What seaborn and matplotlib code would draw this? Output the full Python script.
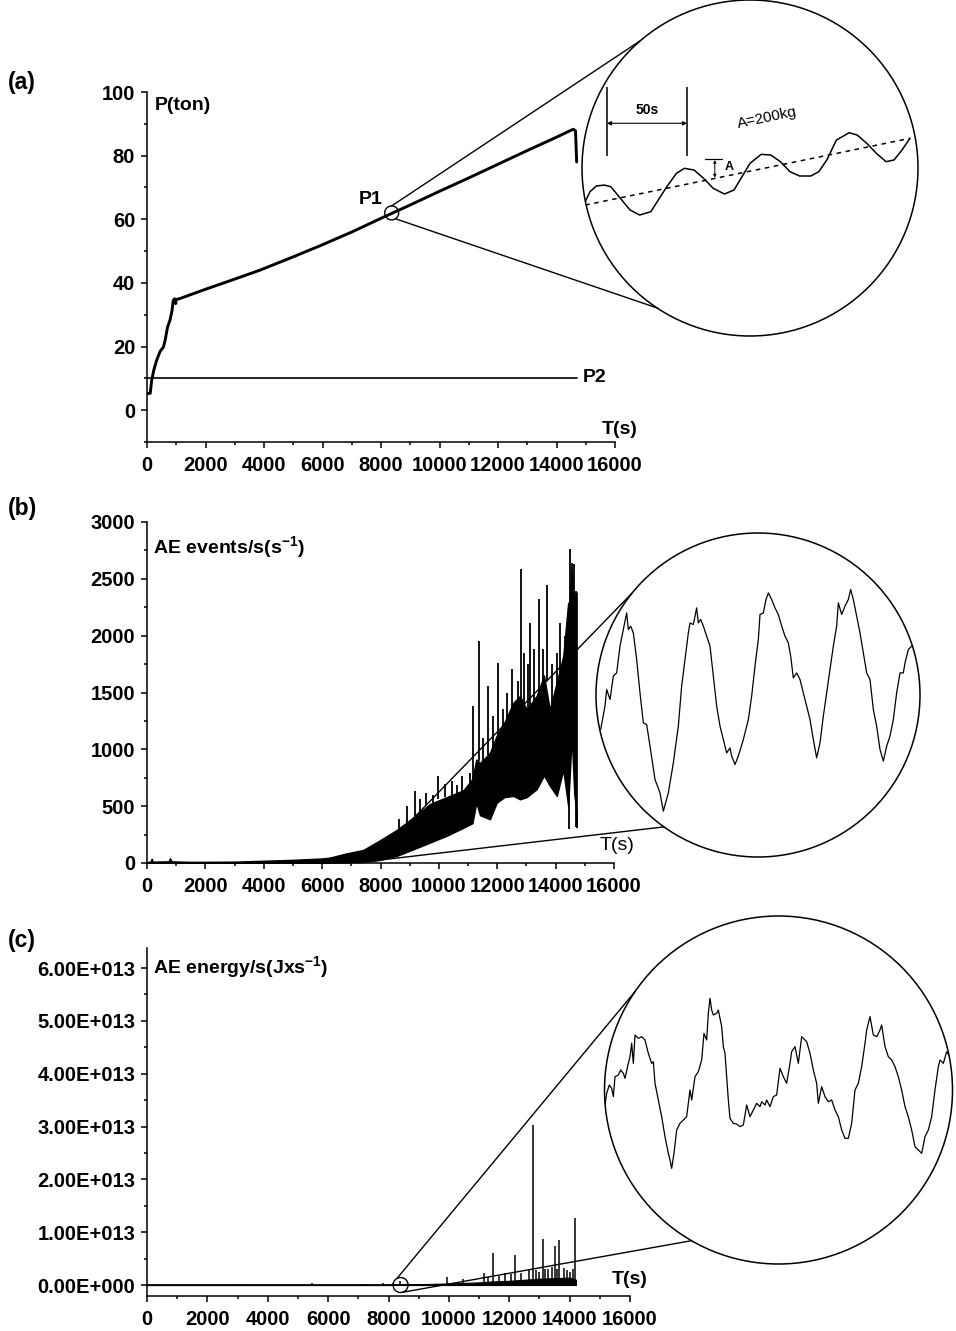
import numpy as np
import matplotlib
matplotlib.use("Agg")
import matplotlib.pyplot as plt
import seaborn as sns
from matplotlib.ticker import FixedLocator, FixedFormatter, MultipleLocator
from matplotlib.patches import Circle

# ------------------------------------------------------------------ data
X_TICKS = [0, 2000, 4000, 6000, 8000, 10000, 12000, 14000, 16000]
X_TICK_LABELS = ["0", "2000", "4000", "6000", "8000", "10000", "12000", "14000", "16000"]

# (a) load P (ton) versus time
A_YTICKS = [0, 20, 40, 60, 80, 100]
A_YTICK_LABELS = ["0", "20", "40", "60", "80", "100"]
P1_T = [0, 110, 160, 230, 330, 450, 560, 620, 700, 786, 850, 900, 950, 980, 1000, 1100,
        2000, 3000, 3860, 5000, 6000, 7000, 8000, 9000, 10000, 11000, 12000, 13000, 14000,
        14570, 14650, 14690]
P1_LOAD = [5.2, 5.3, 9.4, 12.5, 15.7, 18.5, 19.8, 22.0, 26.0, 28.3, 31.0, 34.6, 35.0, 33.5, 34.8, 35.0,
           38.0, 41.2, 44.0, 48.2, 52.0, 56.0, 60.3, 64.5, 68.8, 73.0, 77.3, 81.6, 85.8,
           88.3, 87.8, 78.0]
P2_T = [0, 14700]
P2_LOAD = [10, 10]
ZOOM_A_CENTER = (8365, 62.0)          # P1 point (s, ton)
# zoomed load around P1 (s, kg)
ZOOM_A_T = [8302, 8305, 8309, 8314, 8318, 8324, 8330, 8336, 8343, 8347, 8353, 8359, 8364, 8370,
            8376, 8382, 8389, 8395, 8400, 8405, 8412, 8418, 8424, 8430, 8436, 8443, 8448, 8453,
            8459, 8467, 8472, 8478, 8484, 8490, 8495, 8500, 8505]
ZOOM_A_KG = [61579, 61704, 61775, 61787, 61766, 61621, 61475, 61412, 61454, 61579, 61766, 61933,
             61996, 61975, 61871, 61746, 61675, 61725, 61891, 62058, 62171, 62162, 62079, 61954,
             61900, 61900, 61954, 62100, 62350, 62441, 62412, 62308, 62183, 62079, 62100, 62225,
             62371]
TREND_A_T = [8302, 8505]
TREND_A_KG = [61537, 62371]
PERIOD_A_T = [8315.6, 8365.6]          # 50 s marker

# (b) AE events/s
B_YTICKS = [0, 500, 1000, 1500, 2000, 2500, 3000]
B_YTICK_LABELS = ["0", "500", "1000", "1500", "2000", "2500", "3000"]
T_B = [0, 120, 160, 200, 740, 790, 840, 1500, 3000, 4000, 5000, 6000, 6270, 6840, 7410, 7980,
       8550, 9120, 9700, 10270, 10840, 11150, 11280, 11410, 11750, 11980, 12250, 12550, 12780,
       13010, 13350, 13600, 13800, 14040, 14260, 14430, 14470, 14550, 14640, 14690, 14720]
LOW_B = [0, 0, 0, 0, 0, 0, 0, 0, 0, 0, 0, 0, 3, 5, 9, 27, 62, 120, 180, 240, 310, 350, 530, 420,
         385, 530, 580, 590, 560, 580, 650, 770, 680, 590, 820, 500, 700, 1120, 600, 500, 316]
HIGH_B = [10, 12, 38, 12, 15, 42, 15, 10, 12, 20, 28, 40, 48, 85, 115, 200, 290, 400, 520, 580,
          640, 740, 910, 880, 970, 1120, 1240, 1410, 1470, 1350, 1470, 1650, 1350, 1590, 1820,
          2290, 2290, 2580, 2290, 2380, 2380]
SPIKE_B_T = [8633, 8896, 9181, 9352, 9558, 9809, 9981, 10209, 10437, 10609, 10780, 11065, 11180,
             11374, 11522, 11694, 11865, 12036, 12207, 12322, 12493, 12607, 12721, 12801, 12915,
             13064, 13121, 13258, 13441, 13578, 13715, 13863, 14035, 14149, 14320, 14491, 14571,
             14628, 14697]
SPIKE_B_TOP = [384, 500, 634, 560, 619, 600, 766, 692, 720, 690, 766, 795, 1381, 1953, 1100, 1558,
               1294, 1763, 1352, 1500, 1704, 1411, 1600, 2590, 1851, 1750, 2114, 1880, 2320, 1880,
               2450, 1750, 1851, 2114, 1997, 2760, 2643, 2628, 2394]
SPIKE_B_BASE = [250, 330, 400, 420, 500, 520, 560, 580, 600, 610, 630, 680, 700, 900, 880, 950,
                1000, 1100, 1200, 1250, 1350, 1400, 1420, 1450, 1400, 1350, 1350, 1400, 1460, 1550,
                1600, 1400, 1400, 1550, 1800, 2000, 2000, 2000, 2000]
DIP_B_T = [14470, 14700]
DIP_B_LOW = [300, 316]
DIP_B_TOP = [1000, 1000]
ZOOM_B_CENTER = (7708, 18)
ZOOM_B_T = [7612.4, 7615, 7616, 7618, 7620, 7622, 7624, 7626, 7628, 7629,
            7630.4, 7632, 7634, 7636, 7638, 7640, 7642, 7645, 7648, 7650,
            7653, 7656, 7659, 7661, 7663, 7665, 7666, 7668, 7670, 7671,
            7672.4, 7674, 7676, 7678, 7680, 7682, 7684, 7686, 7688, 7690,
            7691, 7693, 7695, 7698, 7701, 7703, 7705, 7707, 7708, 7710,
            7711.6, 7713, 7715, 7717, 7719, 7721, 7723, 7725, 7726.4, 7728,
            7730, 7732, 7734, 7736, 7738, 7740, 7742, 7744, 7746, 7748,
            7750, 7752, 7754, 7755, 7757, 7759, 7761, 7762.4, 7764, 7766,
            7768, 7770, 7772, 7774, 7776, 7778, 7780, 7782, 7784, 7786,
            7788, 7790, 7792, 7794, 7795, 7797, 7799]
ZOOM_B_EV = [65, 76.7, 85, 80, 91.7, 93.3, 106.7, 115, 123.3, 115,
             116.7, 113.3, 100, 83.3, 68.3, 67.5, 56.7, 40, 33.3, 24.2,
             33.3, 48.3, 66.7, 86.7, 100, 113.3, 118.3, 117.5, 125.8, 118.3,
             120, 116.7, 111.7, 106.7, 91.7, 76.7, 66.7, 60, 53.3, 55.8,
             51.7, 47.5, 51.7, 60, 70, 81.7, 96.7, 110, 122.5, 123.3,
             130, 133.3, 130, 125.8, 122.5, 116.7, 111.7, 108.3, 101.7, 90.8,
             93.3, 90, 83.3, 76.7, 70, 60, 50.8, 58.3, 71.7, 83.3,
             95, 106.7, 116.7, 128.3, 122.5, 126.7, 130, 135, 130, 121.7,
             113.3, 103.3, 93.3, 90, 75, 66.7, 55, 49.2, 56.7, 61.7,
             70, 83.3, 93.3, 93.3, 98.3, 105, 106.7]

# (c) AE energy/s (J/s)
C_YTICKS = [0, 1e13, 2e13, 3e13, 4e13, 5e13, 6e13]
C_YTICK_LABELS = ["0.00E+000", "1.00E+013", "2.00E+013", "3.00E+013", "4.00E+013",
                  "5.00E+013", "6.00E+013"]
C_BASE_T = [0, 14210]
C_BASE_E = [0, 0]
T_C = [0, 8000, 8500, 9000, 10000, 11000, 11500, 12000, 12500, 13000, 13500, 14000, 14210]
HIGH_C = [0, 0, 0.01e13, 0.015e13, 0.03e13, 0.05e13, 0.07e13, 0.08e13, 0.10e13, 0.12e13,
          0.13e13, 0.14e13, 0.10e13]
SPIKE_C_T = [3080, 5455, 7155, 7817, 8148, 8390, 9937, 10477, 11163, 11300, 11470, 11650, 11858,
             12050, 12190, 12400, 12663, 12776, 12900, 13000, 13107, 13200, 13300, 13420, 13514,
             13580, 13657, 13800, 13900, 14000, 14100, 14177]
SPIKE_C_TOP = [0.02e13, 0.03e13, 0.02e13, 0.03e13, 0.03e13, 0.08e13, 0.15e13, 0.11e13, 0.22e13,
               0.15e13, 0.60e13, 0.18e13, 0.22e13, 0.2e13, 0.57e13, 0.22e13, 0.30e13, 3.03e13,
               0.28e13, 0.25e13, 0.88e13, 0.3e13, 0.30e13, 0.35e13, 0.74e13, 0.3e13, 0.85e13,
               0.33e13, 0.28e13, 0.25e13, 0.3e13, 1.26e13]
ZOOM_C_CENTER = (8400, 0)
ZOOM_C_T = [8314, 8316, 8317.6, 8319, 8320, 8321, 8323, 8324.4, 8326, 8327,
            8329, 8330, 8331, 8332, 8333, 8335, 8337, 8339, 8341, 8343,
            8344, 8345, 8347, 8349, 8351, 8353, 8354, 8355, 8356.4, 8358,
            8360, 8362, 8364, 8366, 8367, 8369, 8371, 8373, 8374.4, 8376,
            8377, 8378, 8379, 8380, 8382, 8383, 8385, 8386, 8387, 8388,
            8389, 8390, 8392, 8394, 8396, 8398, 8400, 8402, 8404, 8406,
            8408, 8409, 8411, 8412, 8414, 8416, 8418, 8420, 8422, 8424,
            8426, 8427, 8429, 8431, 8433, 8436, 8438, 8440, 8442, 8443,
            8445, 8447, 8449, 8451, 8453, 8455, 8457, 8459, 8461, 8463,
            8465, 8467, 8469, 8471, 8472, 8474, 8476, 8478, 8480, 8481,
            8483, 8485, 8487, 8489, 8491, 8493, 8495, 8497, 8499, 8501,
            8503, 8505, 8507, 8509, 8511, 8513, 8515, 8516, 8518, 8520,
            8522, 8524]
ZOOM_C_E10 = [5.10, 5.80, 6.05, 5.95, 5.70, 6.30, 6.35, 6.50, 6.40, 6.25,
              6.70, 6.90, 7.30, 6.70, 7.55, 7.45, 7.50, 7.40, 7.00, 6.70,
              6.75, 6.10, 5.60, 5.10, 4.50, 4.00, 3.80, 3.55, 4.00, 4.70,
              4.90, 5.00, 5.10, 5.90, 5.60, 6.30, 6.45, 6.80, 7.60, 7.40,
              8.20, 8.65, 8.30, 8.15, 8.20, 8.30, 7.80, 7.20, 7.00, 6.30,
              5.60, 5.05, 4.90, 4.88, 4.80, 4.85, 5.45, 5.10, 5.30, 5.50,
              5.40, 5.55, 5.45, 5.60, 5.40, 5.70, 5.75, 6.55, 6.30, 6.10,
              6.70, 7.05, 7.20, 6.70, 7.50, 7.35, 7.00, 6.50, 6.10, 5.50,
              6.00, 5.70, 5.55, 5.60, 5.30, 5.10, 4.70, 4.45, 4.45, 4.90,
              5.90, 6.10, 6.60, 7.30, 7.70, 8.10, 7.55, 7.50, 7.70, 7.85,
              7.20, 6.90, 6.80, 6.60, 6.30, 5.90, 5.40, 5.10, 4.70, 4.20,
              4.10, 4.00, 4.50, 4.70, 5.10, 5.90, 6.60, 6.80, 6.70, 7.05,
              6.90, 6.70]   # units of 1e10 J/s

# ------------------------------------------------------------------ style
sns.set_theme(style="white")
plt.rcParams['font.family'] = ['Liberation Sans', 'DejaVu Sans']
plt.rcParams['font.weight'] = 'bold'
plt.rcParams['mathtext.fontset'] = 'custom'
plt.rcParams['mathtext.rm'] = 'Liberation Sans:bold'
plt.rcParams['mathtext.default'] = 'rm'
for k in ('text.color', 'axes.labelcolor', 'xtick.color', 'ytick.color', 'axes.edgecolor'):
    plt.rcParams[k] = 'black'

W, H = 956, 1331
fig = plt.figure(figsize=(W / 100, H / 100), dpi=100)
fig.patch.set_facecolor('white')


def px_axes(l, t, r, b, **kw):
    return fig.add_axes([l / W, 1 - b / H, (r - l) / W, (b - t) / H], **kw)


axA = px_axes(147, 92, 615, 442)
axB = px_axes(147, 522, 614, 863)
axC = px_axes(147, 948, 630, 1296)

# ---- (a)
sns.lineplot(x=P1_T, y=P1_LOAD, ax=axA, color='black', lw=2.1, estimator=None, sort=False)
sns.lineplot(x=P2_T, y=P2_LOAD, ax=axA, color='black', lw=1.2, estimator=None, sort=False)
axA.set_ylim(-10, 100)
axA.yaxis.set_major_locator(FixedLocator(A_YTICKS))
axA.yaxis.set_major_formatter(FixedFormatter(A_YTICK_LABELS))
axA.yaxis.set_minor_locator(MultipleLocator(10))

# ---- (b)
axB.fill_between(T_B, LOW_B, HIGH_B, color='black', lw=1.0, edgecolor='black')
axB.vlines(SPIKE_B_T, SPIKE_B_BASE, SPIKE_B_TOP, color='black', lw=1.3)
axB.vlines(DIP_B_T, DIP_B_LOW, DIP_B_TOP, color='black', lw=1.3)
axB.set_ylim(0, 3000)
axB.yaxis.set_major_locator(FixedLocator(B_YTICKS))
axB.yaxis.set_major_formatter(FixedFormatter(B_YTICK_LABELS))
axB.yaxis.set_minor_locator(MultipleLocator(250))

# ---- (c)
sns.lineplot(x=C_BASE_T, y=C_BASE_E, ax=axC, color='black', lw=1.3, estimator=None, sort=False)
axC.fill_between(T_C, 0, HIGH_C, color='black', lw=0.8, edgecolor='black')
axC.vlines(SPIKE_C_T, 0, SPIKE_C_TOP, color='black', lw=1.1)
axC.set_ylim(-0.208e13, 6.38e13)
axC.yaxis.set_major_locator(FixedLocator(C_YTICKS))
axC.yaxis.set_major_formatter(FixedFormatter(C_YTICK_LABELS))
axC.yaxis.set_minor_locator(MultipleLocator(0.5e13))

for ax in (axA, axB, axC):
    ax.set_xlim(0, 16000)
    ax.xaxis.set_major_locator(FixedLocator(X_TICKS))
    ax.xaxis.set_major_formatter(FixedFormatter(X_TICK_LABELS))
    ax.xaxis.set_minor_locator(MultipleLocator(1000))
    ax.set_facecolor('none')
    for s in ('top', 'right'):
        ax.spines[s].set_visible(False)
    for s in ('left', 'bottom'):
        ax.spines[s].set_linewidth(1.1)
        ax.spines[s].set_color('black')
    ax.tick_params(which='both', direction='out', bottom=True, left=True,
                   color='black', width=1.1, labelcolor='black')
    ax.tick_params(which='major', length=4, labelsize=14.5)
    ax.tick_params(which='minor', length=2.5)
    ax.tick_params(axis='y', pad=4.5)
    ax.tick_params(axis='x', pad=6)
    ax.set_xlabel('')
    ax.set_ylabel('')

# ------------------------------------------------------------------ insets
insA = px_axes(582, 0, 918, 336)
insB = px_axes(596, 533, 920, 857)
insC = px_axes(604.5, 916, 952.5, 1264)

sns.lineplot(x=ZOOM_A_T, y=ZOOM_A_KG, ax=insA, color='black', lw=1.1, estimator=None, sort=False)
insA.plot(TREND_A_T, TREND_A_KG, color='black', lw=1.1, ls=(0, (3, 3)))
insA.set_xlim(8300, 8510)
insA.set_ylim(59900, 64100)
insA.vlines(PERIOD_A_T, 62150, 63012, color='black', lw=1.1)
insA.annotate('', xy=(PERIOD_A_T[0], 62559), xytext=(PERIOD_A_T[1], 62559),
              arrowprops=dict(arrowstyle='<|-|>', lw=0.8, color='black',
                              shrinkA=0, shrinkB=0, mutation_scale=6))
insA.text(sum(PERIOD_A_T) / 2, 62720, '50s', ha='center', va='center', fontsize=10,
          fontweight='bold', color='black')
insA.text(8416, 62625, 'A=200kg', ha='center', va='center', fontsize=11,
          fontweight='normal', rotation=12, color='black')
insA.plot([8376.9, 8387.5], [62112, 62112], color='black', lw=0.9)
insA.annotate('', xy=(8383, 61880), xytext=(8383, 62100),
              arrowprops=dict(arrowstyle='<|-|>', lw=0.7, color='black',
                              shrinkA=0, shrinkB=0, mutation_scale=4))
insA.text(8389, 62010, 'A', ha='left', va='center', fontsize=9, fontweight='bold', color='black')

sns.lineplot(x=ZOOM_B_T, y=ZOOM_B_EV, ax=insB, color='black', lw=0.9, estimator=None, sort=False)
insB.set_xlim(7609.6, 7804)
insB.set_ylim(1.25, 163.25)

sns.lineplot(x=ZOOM_C_T, y=ZOOM_C_E10, ax=insC, color='black', lw=0.9, estimator=None, sort=False)
insC.set_xlim(8314.7, 8523.5)
insC.set_ylim(0.68, 11.12)

for ins in (insA, insB, insC):
    ins.set_axis_off()
    ins.patch.set_alpha(0)
    clip = Circle((0.5, 0.5), 0.5, transform=ins.transAxes)
    for ln in ins.lines:
        ln.set_clip_path(clip)

# ------------------------------------------------------------------ overlay (pixel coords)
ov = fig.add_axes([0, 0, 1, 1], zorder=5)
ov.set_xlim(0, W)
ov.set_ylim(H, 0)
ov.set_axis_off()
ov.patch.set_alpha(0)


def data_px(ax, x, y):
    X, Y = ax.transData.transform((x, y))
    return X, H - Y


def inset_circle(ins):
    bb = ins.get_position()
    return ((bb.x0 + bb.x1) / 2 * W, (1 - (bb.y0 + bb.y1) / 2) * H), bb.width * W / 2


def circ_pt(c, r, ang):
    a = np.deg2rad(ang)
    return c[0] + r * np.cos(a), c[1] - r * np.sin(a)


connect = [
    (axA, ZOOM_A_CENTER, 7.0, (90, -57), insA, (130.7, -123.6)),
    (axB, ZOOM_B_CENTER, 0.0, (90, -90), insB, (141.0, -125.5)),
    (axC, ZOOM_C_CENTER, 7.5, (119, -80), insC, (145.5, -120.0)),
]
for ax, cen, rs, s_ang, ins, b_ang in connect:
    c1 = data_px(ax, *cen)
    c2, r2 = inset_circle(ins)
    ov.add_patch(Circle(c2, r2, fill=False, ec='black', lw=1.1))
    if rs > 0:
        ov.add_patch(Circle(c1, rs, fill=False, ec='black', lw=1.0))
    for sa, ba in zip(s_ang, b_ang):
        p1 = circ_pt(c1, rs, sa)
        p2 = circ_pt(c2, r2, ba)
        ov.plot([p1[0], p2[0]], [p1[1], p2[1]], color='black', lw=1.0)

# ------------------------------------------------------------------ texts
kw = dict(color='black', ha='left', va='center')
ov.text(8, 82, '(a)', fontsize=16.5, fontweight='bold', **kw)
ov.text(8, 509, '(b)', fontsize=16.5, fontweight='bold', **kw)
ov.text(8, 941, '(c)', fontsize=16.5, fontweight='bold', **kw)
ov.text(155, 106, 'P(ton)', fontsize=14, fontweight='bold', **kw)
ov.text(153, 547, r'AE events/s(s$^{-1}$)', fontsize=14, fontweight='bold', **kw)
ov.text(153, 967, r'AE energy/s(Jxs$^{-1}$)', fontsize=14, fontweight='bold', **kw)
kc = dict(color='black', ha='center', va='center', fontsize=14)
ov.text(620, 430, 'T(s)', fontweight='bold', **kc)
ov.text(617, 846, 'T(s)', fontweight='normal', **kc)
ov.text(630, 1280, 'T(s)', fontweight='bold', **kc)
ov.text(371, 200, 'P1', fontweight='bold', **kc)
ov.text(595, 378, 'P2', fontweight='bold', **kc)

fig.savefig('out.png', dpi=100, facecolor='white')
